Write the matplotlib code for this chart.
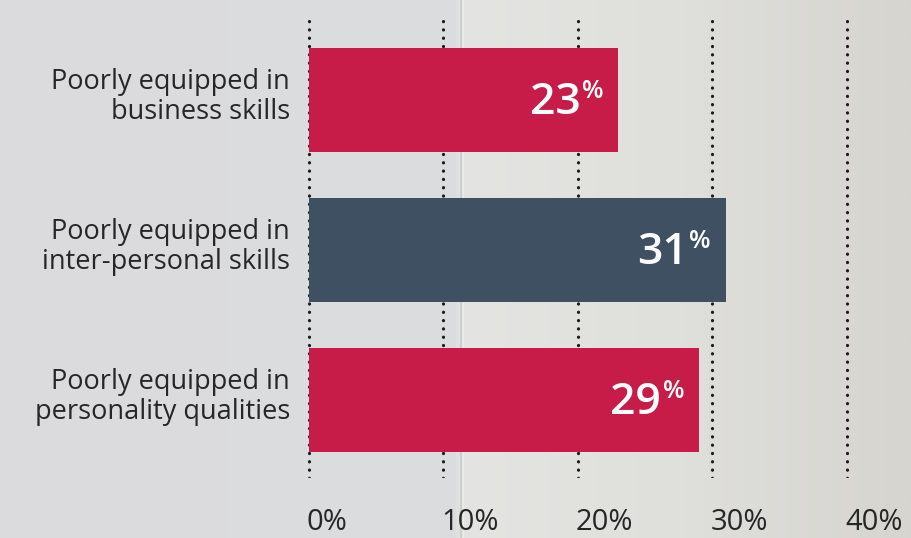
import numpy as np
import matplotlib.pyplot as plt
from matplotlib.colors import LinearSegmentedColormap

plt.rcParams['font.family'] = ['Open Sans', 'DejaVu Sans']

categories = ['Poorly equipped in\nbusiness skills',
              'Poorly equipped in\ninter-personal skills',
              'Poorly equipped in\npersonality qualities']
values = [23, 31, 29]
bar_colors = ['#c71c48', '#3e5061', '#c71c48']
ticks = [0, 10, 20, 30, 40]
tick_labels = ['0%', '10%', '20%', '30%', '40%']

W, H = 912, 538
fig = plt.figure(figsize=(W / 100, H / 100), dpi=100)

# paper-like backdrop with a faint fold
bg = fig.add_axes([0, 0, 1, 1])
paper = LinearSegmentedColormap.from_list('paper', [
    (0.0, '#dbdbdd'), (0.50, '#dcdddf'), (0.505, '#e4e5e2'),
    (0.75, '#dfdfdb'), (1.0, '#d6d5d0')])
bg.imshow(np.linspace(0, 1, 400)[None, :], cmap=paper, aspect='auto',
          extent=[0, 1, 0, 1])
bg.axvline(461 / W, color='#c9cacb', lw=1.2)
bg.axvline(463 / W, color='#ecedeb', lw=1.0)
bg.set_xlim(0, 1)
bg.set_ylim(0, 1)
bg.axis('off')

# plot area: x=0 at 309px, 13.45px per percent; rows 150px apart
px = 13.45
x0, x1 = -0.6, 41.2
left = (309 + x0 * px) / W
width = (x1 - x0) * px / W
y_top, y_bot = 14, 478
ax = fig.add_axes([left, (H - y_bot) / H, width, (y_bot - y_top) / H])
ax.set_facecolor('none')
ax.set_xlim(x0, x1)
ax.set_ylim((y_bot - 100) / 150, (y_top - 100) / 150)

for t in ticks:
    ax.axvline(t, color='#1a1a1a', lw=2.3, linestyle=(0, (0.05, 2.55)),
               dash_capstyle='round', zorder=1)

y = np.arange(len(values))
ax.barh(y, values, height=0.69, color=bar_colors, zorder=2)

for yi, v, lab in zip(y, values, categories):
    ax.annotate(lab, (0, yi), xytext=(-19, 3), textcoords='offset pixels',
                ha='right', va='center', fontsize=19.5, color='#262626',
                linespacing=1.12)
    ax.annotate(str(v), (v, yi), xytext=(-38, -14), textcoords='offset pixels',
                ha='right', va='baseline', fontsize=32, fontweight='semibold',
                color='white', zorder=3)
    ax.annotate('%', (v, yi), xytext=(-15, 21), textcoords='offset pixels',
                ha='right', va='top', fontsize=18, fontweight='semibold',
                color='white', zorder=3)

for t, lab in zip(ticks, tick_labels):
    ax.annotate(lab, (t, 0), xycoords=('data', 'figure fraction'),
                xytext=(-2, 16), textcoords='offset pixels',
                ha='left', va='center', fontsize=21, color='#262626')

ax.axis('off')
fig.savefig('out.png', dpi=100)
